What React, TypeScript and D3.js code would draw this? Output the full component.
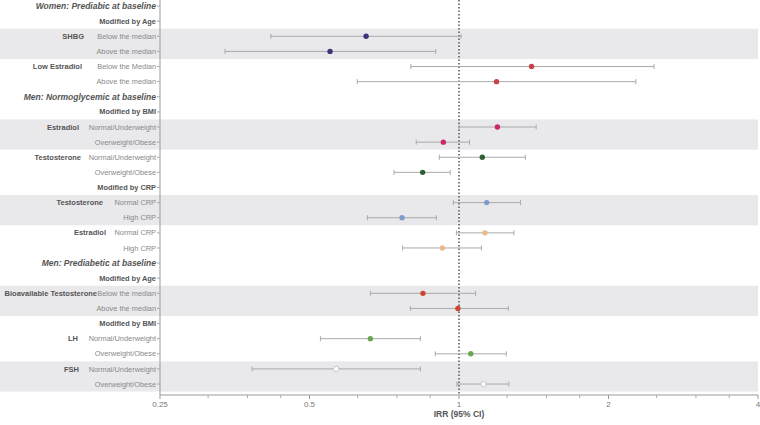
import React from "react";
import * as d3 from "d3";

// Row labels (top to bottom)
const rowLabels = [
  "Women: Prediabic at baseline", "Modified by Age", "Below the median", "Above the median",
  "Below the Median", "Above the median", "Men: Normoglycemic at baseline", "Modified by BMI",
  "Normal/Underweight", "Overweight/Obese", "Normal/Underweight", "Overweight/Obese",
  "Modified by CRP", "Normal CRP", "High CRP", "Normal CRP", "High CRP",
  "Men: Prediabetic at baseline", "Modified by Age", "Below the median", "Above the median",
  "Modified by BMI", "Normal/Underweight", "Overweight/Obese", "Normal/Underweight", "Overweight/Obese",
];
// 0 = normal sub label, 1 = bold modifier, 2 = bold italic heading
const rowKind = [2, 1, 0, 0, 0, 0, 2, 1, 0, 0, 0, 0, 1, 0, 0, 0, 0, 2, 1, 0, 0, 1, 0, 0, 0, 0];

const groupNames = ["SHBG", "Low Estradiol", "Estradiol", "Testosterone", "Testosterone", "Estradiol", "Bioavailable Testosterone", "LH", "FSH"];
const groupRows = [2, 4, 8, 10, 13, 15, 19, 22, 24];
const groupColors = ["#3a3578", "#c8424a", "#c9286b", "#2e5e34", "#7d9ccb", "#e9bb8c", "#cc4632", "#6aa84f", "#ffffff"];
const groupStrokes = ["#3a3578", "#c8424a", "#c9286b", "#2e5e34", "#7d9ccb", "#e9bb8c", "#cc4632", "#6aa84f", "#bcc8c8"];
const groupLabelEnd = [84, 82, 79, 81, 103, 106, 97, 78, 79];
const shadedGroups = [0, 2, 4, 6, 8];

// Estimates: row index, group index, IRR, lower, upper
const estRow = [2, 3, 4, 5, 8, 9, 10, 11, 13, 14, 15, 16, 19, 20, 22, 23, 24, 25];
const estGroup = [0, 0, 1, 1, 2, 2, 3, 3, 4, 4, 5, 5, 6, 6, 7, 7, 8, 8];
const estIRR = [0.65, 0.55, 1.40, 1.19, 1.195, 0.93, 1.114, 0.845, 1.137, 0.768, 1.128, 0.926, 0.846, 0.995, 0.663, 1.056, 0.566, 1.12];
const estLow = [0.418, 0.338, 0.80, 0.624, 1.0, 0.82, 0.913, 0.74, 0.974, 0.654, 0.988, 0.77, 0.663, 0.798, 0.526, 0.896, 0.383, 0.99];
const estHigh = [1.01, 0.898, 2.47, 2.27, 1.43, 1.05, 1.36, 0.96, 1.33, 0.90, 1.29, 1.11, 1.08, 1.257, 0.836, 1.245, 0.836, 1.26];

const majorTicks = [0.25, 0.5, 1, 2, 4];
const tickLabels = ["0.25", "0.5", "1", "2", "4"];

const W = 760, H = 425;
const left = 160, right = 758, top = -1.5, bottom = 391.6;
const font = "Liberation Sans, Arial, sans-serif";

export default function App() {
  const x = d3.scaleLog().base(2).domain([0.25, 4]).range([left, right]);
  const y = d3.scaleBand<number>().domain(d3.range(rowLabels.length)).range([top, bottom]);
  const bw = y.bandwidth();
  const cy = (i: number) => (y(i) as number) + bw / 2;
  const axisY = 395;
  const minor: number[] = [];
  majorTicks.slice(0, -1).forEach((m) => [1.25, 1.5, 1.75].forEach((f) => minor.push(m * f)));

  return (
    <svg width={W} height={H} style={{ position: "absolute", left: 0, top: 0, background: "#fff" }} fontFamily={font}>
      {shadedGroups.map((g) => (
        <rect key={g} x={0} y={y(groupRows[g]) as number} width={right} height={bw * 2} fill="#e9e9ec" />
      ))}
      {/* y axis */}
      <line x1={left} x2={left} y1={0} y2={axisY} stroke="#999" strokeWidth={1} />
      {rowLabels.map((lab, i) => (
        <g key={i}>
          <line x1={left - 3} x2={left} y1={cy(i)} y2={cy(i)} stroke="#aaa" />
          <text
            x={left - 4}
            y={cy(i)}
            dy="0.35em"
            textAnchor="end"
            fontSize={rowKind[i] === 2 ? 8.5 : 7.4}
            fontWeight={rowKind[i] === 0 ? "normal" : "bold"}
            fontStyle={rowKind[i] === 2 ? "italic" : "normal"}
            fill={rowKind[i] === 0 ? "#888" : "#555"}
          >
            {lab}
          </text>
        </g>
      ))}
      {groupNames.map((g, i) => (
        <text key={i} x={groupLabelEnd[i]} y={cy(groupRows[i])} dy="0.35em" textAnchor="end" fontSize={7.5} fontWeight="bold" fill="#555">
          {g}
        </text>
      ))}
      {/* reference line */}
      <line x1={x(1)} x2={x(1)} y1={0} y2={axisY} stroke="#555" strokeWidth={1.5} strokeDasharray="1.5,2" />
      {/* CIs and points */}
      {estRow.map((r, i) => {
        const yy = cy(r);
        const g = estGroup[i];
        return (
          <g key={i}>
            <line x1={x(estLow[i])} x2={x(estHigh[i])} y1={yy} y2={yy} stroke="#aaa" strokeWidth={1} />
            <line x1={x(estLow[i])} x2={x(estLow[i])} y1={yy - 2.5} y2={yy + 2.5} stroke="#aaa" />
            <line x1={x(estHigh[i])} x2={x(estHigh[i])} y1={yy - 2.5} y2={yy + 2.5} stroke="#aaa" />
            <circle cx={x(estIRR[i])} cy={yy} r={2.7} fill={groupColors[g]} stroke={groupStrokes[g]} strokeWidth={g === 8 ? 1 : 0} />
          </g>
        );
      })}
      {/* x axis */}
      <line x1={left} x2={right} y1={axisY} y2={axisY} stroke="#999" />
      {majorTicks.map((t, i) => (
        <g key={t}>
          <line x1={x(t)} x2={x(t)} y1={axisY} y2={axisY + 4} stroke="#999" />
          <text x={x(t)} y={axisY + 12} textAnchor="middle" fontSize={8} fill="#777">
            {tickLabels[i]}
          </text>
        </g>
      ))}
      {minor.map((t) => (
        <line key={t} x1={x(t)} x2={x(t)} y1={axisY} y2={axisY + 3} stroke="#aaa" />
      ))}
      <text x={x(1)} y={417} textAnchor="middle" fontSize={8.5} fontWeight="bold" fill="#555">
        IRR (95% CI)
      </text>
    </svg>
  );
}
